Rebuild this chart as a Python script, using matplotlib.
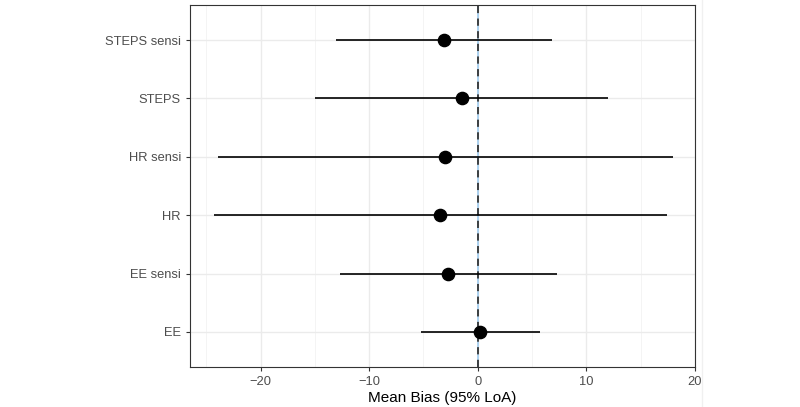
import matplotlib
matplotlib.use("Agg")
import matplotlib.pyplot as plt
from matplotlib.lines import Line2D
from matplotlib.ticker import MultipleLocator

plt.rcParams['font.family'] = ['Liberation Sans', 'DejaVu Sans']

labels = ["EE", "EE sensi", "HR", "HR sensi", "STEPS", "STEPS sensi"]
mean_bias = [0.2, -2.75, -3.5, -3.0, -1.5, -3.1]
lower_loa = [-5.2, -12.7, -24.3, -23.9, -15.0, -13.1]
upper_loa = [5.7, 7.3, 17.4, 18.0, 12.0, 6.8]

fig = plt.figure(figsize=(8, 4.07), dpi=100)
ax = fig.add_axes([190/800, 1-367/407, (695-190)/800, (367-5)/407])

ypos = list(range(1, len(labels)+1))

ax.set_xlim(-26.5, 20.0)
ax.set_ylim(0.4, len(labels)+0.6)
ax.xaxis.set_major_locator(MultipleLocator(10))
ax.xaxis.set_minor_locator(MultipleLocator(5))
ax.grid(which='major', color='#EBEBEB', linewidth=1.0, zorder=0)
ax.grid(which='minor', axis='x', color='#F2F2F2', linewidth=0.6, zorder=0)
ax.set_axisbelow(True)

ax.axvline(0, color='#A6CEEE', linewidth=1.3, zorder=1)
ax.axvline(0, color='#333333', linewidth=1.3, linestyle=(0, (4, 3)), zorder=2)

ax.hlines(ypos, lower_loa, upper_loa, color='black', linewidth=1.2, zorder=3)
ax.plot(mean_bias, ypos, 'o', color='black', markersize=8.8, zorder=4)

ax.set_yticks(ypos)
ax.set_yticklabels(labels)
ax.tick_params(axis='both', which='major', colors='#333333', labelcolor='#4D4D4D',
               labelsize=9.3, length=3, width=0.8)
ax.tick_params(axis='x', which='minor', length=0)
for s in ax.spines.values():
    s.set_color('#333333')
    s.set_linewidth(0.8)

ax.set_xlabel("Mean Bias (95% LoA)", fontsize=11, color='black', labelpad=2)

fig.add_artist(Line2D([702/800, 702/800], [0, 1], color='#F0F0F0', linewidth=1.0))

fig.savefig("out.png", dpi=100)
